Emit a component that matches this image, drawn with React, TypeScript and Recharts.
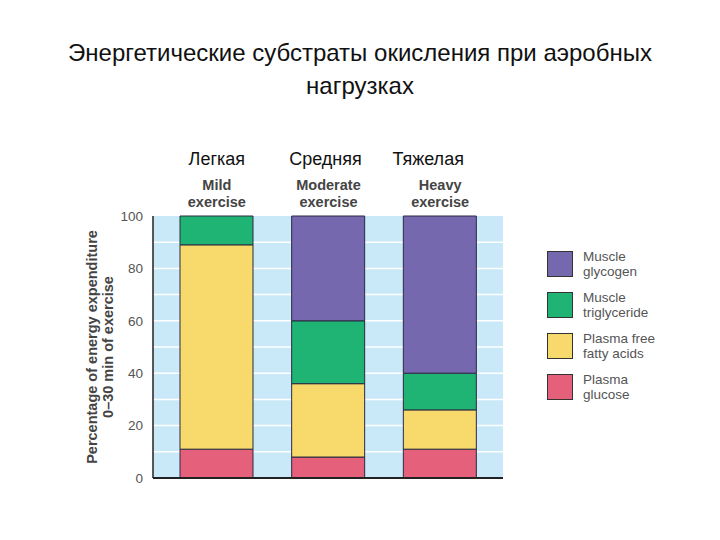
import { BarChart, Bar, XAxis, YAxis, CartesianGrid, ReferenceLine } from 'recharts'

// categories and labels
const levels = ['Mild', 'Moderate', 'Heavy']
const levelsRu = ['Легкая', 'Средняя', 'Тяжелая']

// percentage of energy expenditure
const plasmaGlucose = [11, 8, 11]
const plasmaFFA = [78, 28, 15]
const muscleTriglyceride = [11, 24, 14]
const muscleGlycogen = [0, 40, 60]

const yTicks = [0, 20, 40, 60, 80, 100]
const gridValues = [10, 20, 30, 40, 50, 60, 70, 80, 90]

const series = [
  { key: 'glucose', name: ['Plasma', 'glucose'], color: '#e5607a' },
  { key: 'ffa', name: ['Plasma free', 'fatty acids'], color: '#f8d96b' },
  { key: 'trig', name: ['Muscle', 'triglyceride'], color: '#1fb374' },
  { key: 'glycogen', name: ['Muscle', 'glycogen'], color: '#7568ae' },
]

const data = levels.map((level, i) => ({
  level,
  ru: levelsRu[i],
  glucose: plasmaGlucose[i],
  ffa: plasmaFFA[i],
  trig: muscleTriglyceride[i],
  glycogen: muscleGlycogen[i],
}))

const font = '"Liberation Sans", Arial, sans-serif'

const TopTick = ({ x, y, payload, index }: any) => {
  const ruShift = [0, -3, -12]
  return (
    <g>
      <text x={x + ruShift[index]} y={y - 43} textAnchor="middle" fontSize={18} fill="#111" fontFamily={font}>
        {data[index].ru}
      </text>
      <text x={x} y={y - 18} textAnchor="middle" fontSize={14.5} fontWeight="bold" fill="#444" fontFamily={font}>
        {payload.value}
      </text>
      <text x={x} y={y - 1} textAnchor="middle" fontSize={14.5} fontWeight="bold" fill="#444" fontFamily={font}>
        exercise
      </text>
    </g>
  )
}

const YLabel = ({ viewBox }: any) => {
  const cx = viewBox.x - 13
  const cy = viewBox.y + viewBox.height / 2
  return (
    <text transform={`rotate(-90 ${cx} ${cy})`} x={cx} y={cy} textAnchor="middle" fontSize={14.5} fontWeight="bold" fill="#444" fontFamily={font}>
      <tspan x={cx} dy={-3}>Percentage of energy expenditure</tspan>
      <tspan x={cx} dy={16}>0–30 min of exercise</tspan>
    </text>
  )
}

const LegendBox = () => (
  <div style={{ position: 'absolute', left: 547, top: 243, width: 150, fontFamily: font }}>
    {[...series].reverse().map((s) => (
      <div key={s.key} style={{ display: 'flex', alignItems: 'center', height: 41 }}>
        <div style={{ width: 26, height: 26, background: s.color, border: '1px solid #333', boxSizing: 'border-box', marginRight: 10 }} />
        <div style={{ fontSize: 13.5, lineHeight: '15px', color: '#555' }}>
          {s.name[0]}
          <br />
          {s.name[1]}
        </div>
      </div>
    ))}
  </div>
)

export default function App() {
  return (
    <div style={{ position: 'absolute', left: 0, top: 0, width: 720, height: 540, background: '#fff' }}>
      <div style={{ position: 'absolute', left: 0, top: 36, width: 720, textAlign: 'center', fontFamily: font, fontSize: 24, lineHeight: '33px', color: '#111' }}>
        Энергетические субстраты окисления при аэробных
        <br />
        нагрузках
      </div>
      <BarChart
        width={720}
        height={540}
        data={data}
        margin={{ top: 186, right: 217, bottom: 62, left: 113 }}
        style={{ position: 'absolute', left: 0, top: 0 }}
      >
        <CartesianGrid fill="#c9e9f8" stroke="#ffffff" strokeWidth={1.5} vertical={false} horizontalValues={gridValues} />
        <XAxis
          dataKey="level"
          orientation="top"
          height={30}
          axisLine={false}
          tickLine={false}
          padding={{ left: 8, right: 7 }}
          tick={<TopTick />}
          interval={0}
        />
        <YAxis
          width={40}
          domain={[0, 100]}
          ticks={yTicks}
          tickLine={false}
          axisLine={{ stroke: '#222', strokeWidth: 1.5 }}
          tick={{ fontSize: 13.5, fill: '#555', fontFamily: font }}
          tickMargin={4}
          label={{ content: <YLabel /> }}
        />
        <ReferenceLine y={0} stroke="#222" strokeWidth={2} />
        {series.map((s) => (
          <Bar key={s.key} dataKey={s.key} stackId="a" fill={s.color} stroke="#2a2a40" strokeWidth={1} barSize={73} isAnimationActive={false} />
        ))}
      </BarChart>
      <LegendBox />
    </div>
  )
}
